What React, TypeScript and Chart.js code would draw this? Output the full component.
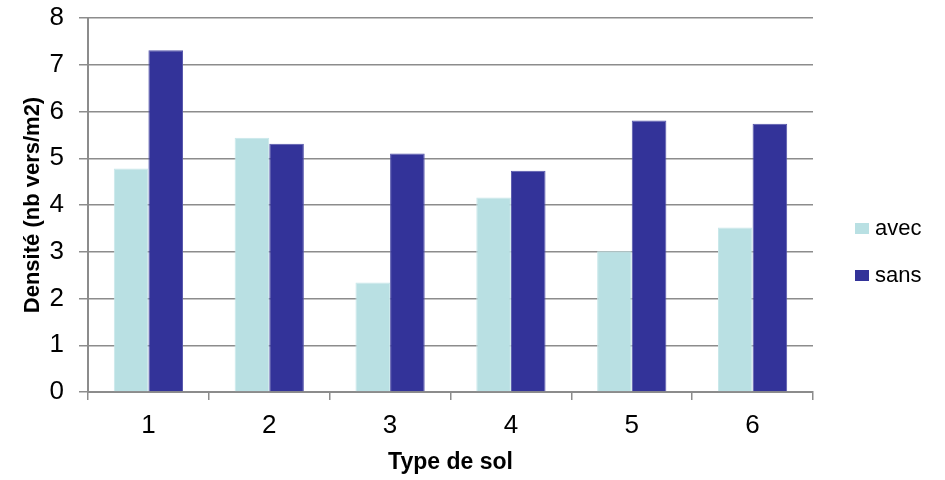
import React, { useEffect, useRef } from "react";
import { Chart, registerables } from "chart.js";

Chart.register(...registerables);

const soilTypes = ["1", "2", "3", "4", "5", "6"];
const avecValues = [4.78, 5.44, 2.34, 4.16, 3.01, 3.52];
const sansValues = [7.31, 5.31, 5.1, 4.73, 5.81, 5.74];
const seriesNames = ["avec", "sans"];
const seriesColors = ["#b9e0e3", "#333399"];
const seriesBorders = ["#c8e8ea", "#5555aa"];
const yTitle = "Densité (nb vers/m2)";
const xTitle = "Type de sol";

const FONT = "'Liberation Sans', Arial, sans-serif";
const GRID = "#8c8c8c";

// Legend drawn to the right of the plot: one square swatch plus label per series.
const sideLegend = {
  id: "sideLegend",
  afterDraw(chart: any) {
    const { ctx, chartArea } = chart;
    const x = chartArea.right + 42;
    const firstY = 228;
    const gap = 47;
    ctx.save();
    ctx.font = `22px ${FONT}`;
    ctx.textBaseline = "middle";
    ctx.textAlign = "left";
    chart.data.datasets.forEach((ds: any, i: number) => {
      const cy = firstY + i * gap;
      ctx.fillStyle = ds.backgroundColor;
      ctx.fillRect(x, cy - 5, 14, 11);
      ctx.fillStyle = "#000";
      ctx.fillText(ds.label, x + 20, cy + 1);
    });
    ctx.restore();
  },
};

export default function App() {
  const canvasRef = useRef<HTMLCanvasElement | null>(null);

  useEffect(() => {
    document.body.style.margin = "0";
    const canvas = canvasRef.current;
    if (!canvas) return;
    const chart = new Chart(canvas, {
      type: "bar",
      data: {
        labels: soilTypes,
        datasets: [
          {
            label: seriesNames[0],
            data: avecValues,
            backgroundColor: seriesColors[0],
            borderColor: seriesBorders[0],
            borderWidth: 1,
          },
          {
            label: seriesNames[1],
            data: sansValues,
            backgroundColor: seriesColors[1],
            borderColor: seriesBorders[1],
            borderWidth: 1,
          },
        ],
      },
      plugins: [sideLegend],
      options: {
        animation: false,
        responsive: false,
        devicePixelRatio: 1,
        layout: { padding: { top: 18, right: 132, left: 20, bottom: 4 } },
        datasets: {
          bar: { categoryPercentage: 0.573, barPercentage: 1 },
        },
        plugins: {
          tooltip: { enabled: false },
          legend: { display: false },
        },
        scales: {
          x: {
            offset: true,
            afterFit: (scale: any) => {
              scale.height = 84;
              scale.paddingLeft = 0;
              scale.paddingRight = 0;
            },
            grid: {
              offset: true,
              drawOnChartArea: false,
              drawTicks: true,
              tickLength: 8,
              color: GRID,
              lineWidth: 1.5,
            },
            border: { color: GRID, width: 2 },
            ticks: {
              color: "#000",
              font: { family: FONT, size: 26 },
              padding: 10,
            },
            title: {
              display: true,
              text: xTitle,
              color: "#000",
              font: { family: FONT, size: 23, weight: "bold" },
              padding: { top: 0, bottom: 0 },
            },
          },
          y: {
            min: 0,
            max: 8,
            afterFit: (scale: any) => {
              scale.width = 68;
              scale.paddingTop = 0;
              scale.paddingBottom = 0;
            },
            ticks: {
              stepSize: 1,
              color: "#000",
              font: { family: FONT, size: 26 },
              padding: 15,
            },
            grid: {
              color: GRID,
              lineWidth: 1.5,
              tickLength: 9,
            },
            border: { color: GRID, width: 2 },
            title: {
              display: true,
              text: yTitle,
              color: "#000",
              font: { family: FONT, size: 22, weight: "bold" },
              padding: { top: 0, bottom: 0 },
            },
          },
        },
      },
    });
    return () => chart.destroy();
  }, []);

  return <canvas ref={canvasRef} width={945} height={480} />;
}
